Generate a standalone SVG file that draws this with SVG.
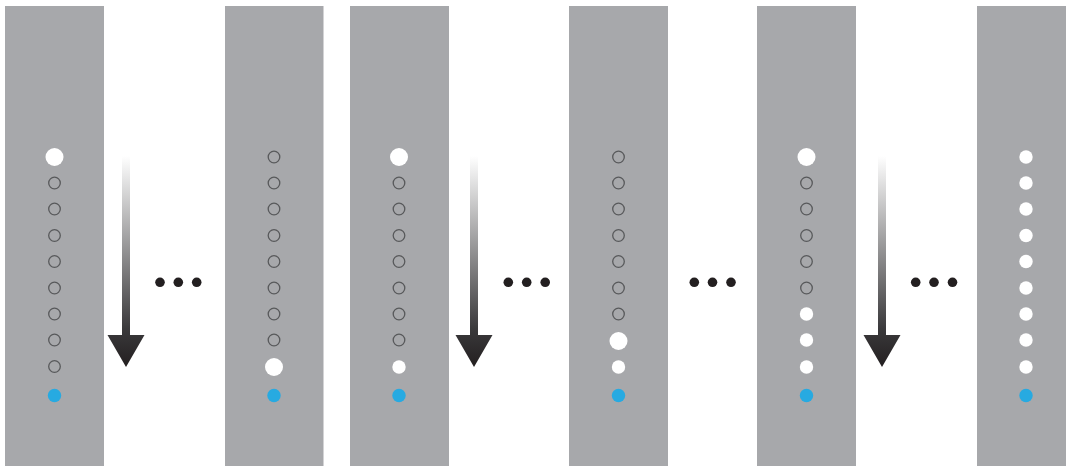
<svg xmlns="http://www.w3.org/2000/svg" width="1066" height="466" viewBox="0 0 1066 466">
<defs>
<linearGradient id="ag" gradientUnits="userSpaceOnUse" x1="0" y1="156" x2="0" y2="367">
<stop offset="0" stop-color="#ffffff"/>
<stop offset="0.82" stop-color="#3a393b"/>
<stop offset="1" stop-color="#231f20"/>
</linearGradient>
<path id="arrow" d="M-4,156 L4,156 L4,335 L18.5,335 L0,367 L-18.5,335 L-4,335 Z"/>
</defs>
<style>
.col{fill:#a7a8ab}
.h{fill:none;stroke:#58595b;stroke-width:1.3}
.b{fill:#ffffff}
.s{fill:#ffffff}
.blue{fill:#27aae1}
.dot{fill:#231f20}
.arr{fill:url(#ag)}
</style>
<g id="col1">
<rect class="col" x="5" y="6" width="99" height="460"/>
<circle class="b" cx="54.5" cy="157" r="9"/>
<circle class="h" cx="54.5" cy="183" r="5.8"/>
<circle class="h" cx="54.5" cy="209" r="5.8"/>
<circle class="h" cx="54.5" cy="235.5" r="5.8"/>
<circle class="h" cx="54.5" cy="261.5" r="5.8"/>
<circle class="h" cx="54.5" cy="288" r="5.8"/>
<circle class="h" cx="54.5" cy="314" r="5.8"/>
<circle class="h" cx="54.5" cy="340" r="5.8"/>
<circle class="h" cx="54.5" cy="366.5" r="5.8"/>
<circle class="blue" cx="54.5" cy="395.5" r="6.7"/>
</g>
<g id="col2">
<rect class="col" x="225" y="6" width="98.5" height="460"/>
<circle class="h" cx="274" cy="157" r="5.8"/>
<circle class="h" cx="274" cy="183" r="5.8"/>
<circle class="h" cx="274" cy="209" r="5.8"/>
<circle class="h" cx="274" cy="235.5" r="5.8"/>
<circle class="h" cx="274" cy="261.5" r="5.8"/>
<circle class="h" cx="274" cy="288" r="5.8"/>
<circle class="h" cx="274" cy="314" r="5.8"/>
<circle class="h" cx="274" cy="340" r="5.8"/>
<circle class="b" cx="274" cy="367" r="9"/>
<circle class="blue" cx="274" cy="395.5" r="6.7"/>
</g>
<g id="col3">
<rect class="col" x="350" y="6" width="99" height="460"/>
<circle class="b" cx="399" cy="157" r="9"/>
<circle class="h" cx="399" cy="183" r="5.8"/>
<circle class="h" cx="399" cy="209" r="5.8"/>
<circle class="h" cx="399" cy="235.5" r="5.8"/>
<circle class="h" cx="399" cy="261.5" r="5.8"/>
<circle class="h" cx="399" cy="288" r="5.8"/>
<circle class="h" cx="399" cy="314" r="5.8"/>
<circle class="h" cx="399" cy="340" r="5.8"/>
<circle class="s" cx="399" cy="367" r="6.7"/>
<circle class="blue" cx="399" cy="395.5" r="6.7"/>
</g>
<g id="col4">
<rect class="col" x="569" y="6" width="99" height="460"/>
<circle class="h" cx="618.5" cy="157" r="5.8"/>
<circle class="h" cx="618.5" cy="183" r="5.8"/>
<circle class="h" cx="618.5" cy="209" r="5.8"/>
<circle class="h" cx="618.5" cy="235.5" r="5.8"/>
<circle class="h" cx="618.5" cy="261.5" r="5.8"/>
<circle class="h" cx="618.5" cy="288" r="5.8"/>
<circle class="h" cx="618.5" cy="314" r="5.8"/>
<circle class="b" cx="618.5" cy="341" r="9"/>
<circle class="s" cx="618.5" cy="367" r="6.7"/>
<circle class="blue" cx="618.5" cy="395.5" r="6.7"/>
</g>
<g id="col5">
<rect class="col" x="757" y="6" width="99" height="460"/>
<circle class="b" cx="806.5" cy="157" r="9"/>
<circle class="h" cx="806.5" cy="183" r="5.8"/>
<circle class="h" cx="806.5" cy="209" r="5.8"/>
<circle class="h" cx="806.5" cy="235.5" r="5.8"/>
<circle class="h" cx="806.5" cy="261.5" r="5.8"/>
<circle class="h" cx="806.5" cy="288" r="5.8"/>
<circle class="s" cx="806.5" cy="314" r="6.7"/>
<circle class="s" cx="806.5" cy="340" r="6.7"/>
<circle class="s" cx="806.5" cy="367" r="6.7"/>
<circle class="blue" cx="806.5" cy="395.5" r="6.7"/>
</g>
<g id="col6">
<rect class="col" x="977" y="6" width="89" height="460"/>
<circle class="s" cx="1026" cy="157" r="6.7"/>
<circle class="s" cx="1026" cy="183" r="6.7"/>
<circle class="s" cx="1026" cy="209" r="6.7"/>
<circle class="s" cx="1026" cy="235.5" r="6.7"/>
<circle class="s" cx="1026" cy="261.5" r="6.7"/>
<circle class="s" cx="1026" cy="288" r="6.7"/>
<circle class="s" cx="1026" cy="314" r="6.7"/>
<circle class="s" cx="1026" cy="340" r="6.7"/>
<circle class="s" cx="1026" cy="367" r="6.7"/>
<circle class="blue" cx="1026" cy="395.5" r="6.7"/>
</g>
<g id="connectors">
<use href="#arrow" class="arr" x="126"/>
<use href="#arrow" class="arr" x="474"/>
<use href="#arrow" class="arr" x="882"/>
<g id="ellipsis1"><circle class="dot" cx="160" cy="282.3" r="4.8"/><circle class="dot" cx="178.3" cy="282.3" r="4.8"/><circle class="dot" cx="196.7" cy="282.3" r="4.8"/></g>
<g id="ellipsis2"><circle class="dot" cx="508.3" cy="282.3" r="4.8"/><circle class="dot" cx="526.7" cy="282.3" r="4.8"/><circle class="dot" cx="545.2" cy="282.3" r="4.8"/></g>
<g id="ellipsis3"><circle class="dot" cx="694.3" cy="282.3" r="4.8"/><circle class="dot" cx="712.5" cy="282.3" r="4.8"/><circle class="dot" cx="731" cy="282.3" r="4.8"/></g>
<g id="ellipsis4"><circle class="dot" cx="915.7" cy="282.3" r="4.8"/><circle class="dot" cx="934" cy="282.3" r="4.8"/><circle class="dot" cx="952.5" cy="282.3" r="4.8"/></g>
</g>
</svg>
